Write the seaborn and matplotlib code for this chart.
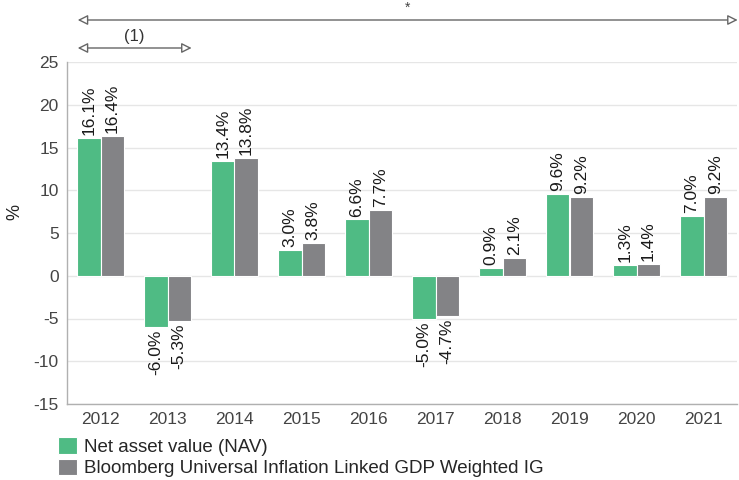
import matplotlib
matplotlib.use("Agg")
import matplotlib.pyplot as plt
import seaborn as sns
import pandas as pd

years = ["2012", "2013", "2014", "2015", "2016", "2017", "2018", "2019", "2020", "2021"]
nav = [16.1, -6.0, 13.4, 3.0, 6.6, -5.0, 0.9, 9.6, 1.3, 7.0]
bench = [16.4, -5.3, 13.8, 3.8, 7.7, -4.7, 2.1, 9.2, 1.4, 9.2]
series = ["Net asset value (NAV)", "Bloomberg Universal Inflation Linked GDP Weighted IG"]
colors = ["#4fbb84", "#838386"]
yticks = [-15, -10, -5, 0, 5, 10, 15, 20, 25]

df = pd.DataFrame({
    "year": years * 2,
    "value": nav + bench,
    "series": [series[0]] * len(years) + [series[1]] * len(years),
})

sns.set_theme(style="white")
plt.rcParams["font.family"] = ["Liberation Sans", "DejaVu Sans"]

fig = plt.figure(figsize=(7.39, 4.8), dpi=100)
ax = fig.add_axes([67 / 739, 1 - 404 / 480, (737 - 67) / 739, (404 - 62) / 480])

sns.barplot(data=df, x="year", y="value", hue="series", palette=colors,
            width=0.7, edgecolor="white", linewidth=0.8, ax=ax, legend=True,
            saturation=1)

ax.set_ylim(-15, 25)
ax.set_xlim(-0.5, 9.5)
ax.set_yticks(yticks)
ax.set_yticklabels([str(t) for t in yticks])
ax.yaxis.grid(True, color="#e6e6e6", linewidth=1)
ax.set_axisbelow(True)
for s in ["top", "right"]:
    ax.spines[s].set_visible(False)
for s in ["left", "bottom"]:
    ax.spines[s].set_color("#b0b0b0")
    ax.spines[s].set_linewidth(1)
ax.tick_params(axis="both", length=0, labelsize=12.5, colors="#444444", pad=6)
ax.set_xlabel("")
ax.set_ylabel("%", fontsize=13, color="#222222", va="center", ha="center")
ax.yaxis.set_label_coords((14.5 - 67) / 670, (404 - 212) / 342)

for cont in ax.containers:
    for bar in cont:
        h = bar.get_height()
        x = bar.get_x() + bar.get_width() / 2
        txt = f"{h:.1f}%"
        if h >= 0:
            ax.annotate(txt, (x, h), xytext=(0, 2), textcoords="offset points",
                        rotation=90, ha="center", va="bottom", fontsize=12.5, color="#1a1a1a")
        else:
            ax.annotate(txt, (x, h), xytext=(0, -2), textcoords="offset points",
                        rotation=90, ha="center", va="top", fontsize=12.5, color="#1a1a1a")

# arrows above the chart
trans = ax.get_xaxis_transform()
ap = dict(arrowstyle="<|-|>", fc="white", ec="#666666", lw=1.0,
          mutation_scale=15, shrinkA=0, shrinkB=0)
y_top = (404 - 20) / (404 - 62)
y_sec = (404 - 48) / (404 - 62)
ax.annotate("", xy=(9.51, y_top), xytext=(-0.34, y_top), xycoords=trans,
            textcoords=trans, arrowprops=ap, annotation_clip=False)
ax.annotate("", xy=(1.36, y_sec), xytext=(-0.34, y_sec), xycoords=trans,
            textcoords=trans, arrowprops=ap, annotation_clip=False)
ax.text(4.58, (404 - 8) / (404 - 62), "*", transform=trans, ha="center", va="center",
        fontsize=10, color="#444444")
ax.text(0.5, (404 - 37) / (404 - 62), "(1)", transform=trans, ha="center", va="center",
        fontsize=12, color="#333333")

handles, labels = ax.get_legend_handles_labels()
ax.get_legend().remove()
fig.legend(handles, labels, loc="upper left", bbox_to_anchor=(58 / 739, 1 - 437 / 480),
           frameon=False, fontsize=13.5, handlelength=1.0, handleheight=1.0,
           handletextpad=0.4, labelspacing=0.15, borderpad=0, borderaxespad=0)

fig.savefig("out.png", dpi=100)
